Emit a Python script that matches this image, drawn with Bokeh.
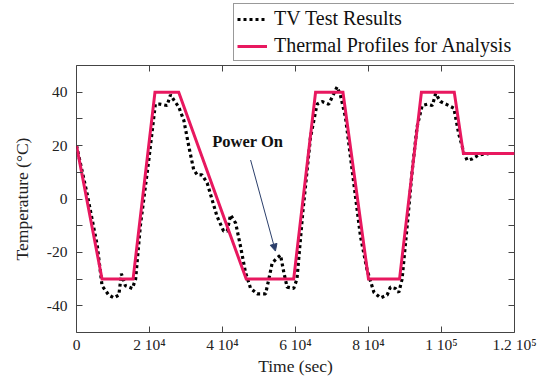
from bokeh.plotting import figure
from bokeh.layouts import column
from bokeh.models import (ColumnDataSource, Legend, LegendItem, LinearAxis, FixedTicker,
                          Range1d, Label, Arrow, NormalHead)
from bokeh.embed import file_html
from bokeh.resources import INLINE

# ---- data ----
profile_time = [0, 7000, 15500, 21500, 28000, 46500, 59500, 65500, 73000, 80000,
                88500, 94500, 103500, 106000, 120000]
profile_temp = [20, -30, -30, 40, 40, -30, -30, 40, 40, -30, -30, 40, 40, 17, 17]

test_time = [0, 2900, 5700, 7000, 8850, 10200, 11600, 12300, 13400, 15300, 16200,
             17500, 19800, 21600, 23000, 24800, 25750, 26700, 28000, 29400, 30800,
             32100, 33100, 34400, 35800, 37200, 38500, 40300, 41300, 42200, 43600,
             44900, 46300, 47700, 49500, 51800, 52700, 53600, 55000, 55900, 56800,
             57700, 59500, 60400, 62000, 64100, 65900, 67300, 69100, 70500, 71400,
             72300, 73700, 75500, 77800, 79600, 81500, 83300, 85100, 86000, 87400,
             88300, 89200, 90600, 92000, 93300, 94700, 96100, 97500, 98400, 99700,
             102000, 103400, 104700, 106100, 107000, 108400, 110200, 112900]
test_temp = [20, 2, -17.5, -32.5, -36, -37, -36, -28, -32.5, -33.5, -30,
             -10, 14.5, 35.5, 35.5, 35, 39, 37, 34.5, 29.5, 19.5,
             11, 9, 9, 6, -0.5, -6.5, -12, -12, -6, -9,
             -17.5, -27.5, -33.5, -35.5, -35.5, -30, -24, -22, -21, -27.5,
             -33, -33.5, -30, -5, 23, 35.5, 36.5, 35.5, 39.5, 42,
             39, 30.5, 11, -14, -26.5, -35, -37, -36, -33, -33.5,
             -35, -30, -10, 11, 27, 35, 35.5, 35, 39.5, 36.5,
             35, 34, 24.5, 17.5, 14.5, 15, 16.5, 17]

x_ticks = [0, 20000, 40000, 60000, 80000, 100000, 120000]
x_tick_labels = ["0", "2 10\u2074", "4 10\u2074", "6 10\u2074", "8 10\u2074", "1 10\u2075", "1.2 10\u2075"]
y_ticks = [-40, -30, -20, -10, 0, 10, 20, 30, 40]
y_tick_labels = ["-40", "", "-20", "", "0", "", "20", "", "40"]

series_names = ["TV Test Results", "Thermal Profiles for Analysis"]
annotation_text = "Power On"
annotation_pos = (37200, 18)
arrow_from = (47700, 14.6)
arrow_to = (54500, -19.5)

FONT = "Liberation Serif"
RED = "#E8185F"
TEST_STYLE = dict(line_color="black", line_width=3.2, line_dash="3 3", line_cap="butt")
PROF_STYLE = dict(line_color=RED, line_width=3, line_join="miter")

# ---- main plot ----
p = figure(width=539, height=317, output_backend="svg", toolbar_location=None,
           x_range=Range1d(0, 120000), y_range=Range1d(-50, 50),
           min_border_left=76, min_border_right=25, min_border_top=4, min_border_bottom=44)
p.background_fill_color = "white"
p.border_fill_color = "white"
p.outline_line_color = "#444444"
p.outline_line_width = 1
p.grid.visible = False

src_test = ColumnDataSource(dict(x=test_time, y=test_temp))
src_prof = ColumnDataSource(dict(x=profile_time, y=profile_temp))

p.line("x", "y", source=src_test, **TEST_STYLE)
p.line("x", "y", source=src_prof, **PROF_STYLE)

xmap = {t: l for t, l in zip(x_ticks, x_tick_labels)}
ymap = {t: l for t, l in zip(y_ticks, y_tick_labels)}

def style(ax, labels=True):
    ax.axis_line_color = None
    ax.major_tick_in = 6
    ax.major_tick_out = 0
    ax.minor_tick_in = 0
    ax.minor_tick_out = 0
    ax.major_tick_line_color = "#444444"
    if labels:
        ax.major_label_text_font = FONT
        ax.major_label_text_font_size = "15.5px"
        ax.major_label_text_color = "#222222"
        ax.axis_label_text_font = FONT
        ax.axis_label_text_font_size = "17.5px"
        ax.axis_label_text_font_style = "normal"
        ax.axis_label_text_color = "#222222"
    else:
        ax.major_label_text_font_size = "0px"
        ax.major_label_standoff = 0

xa = p.xaxis[0]
xa.ticker = FixedTicker(ticks=x_ticks)
xa.major_label_overrides = xmap
xa.axis_label = "Time (sec)"
style(xa)
xa.major_label_standoff = 3
xa.axis_label_standoff = 0

ya = p.yaxis[0]
ya.ticker = FixedTicker(ticks=y_ticks)
ya.major_label_overrides = ymap
ya.axis_label = "Temperature (\u00b0C)"
style(ya)
ya.major_label_standoff = 9
ya.axis_label_standoff = 12

ra = LinearAxis(ticker=FixedTicker(ticks=y_ticks), major_label_overrides={t: "" for t in y_ticks})
style(ra, labels=False)
p.add_layout(ra, "right")
ta = LinearAxis(ticker=FixedTicker(ticks=x_ticks), major_label_overrides={t: "" for t in x_ticks})
style(ta, labels=False)
p.add_layout(ta, "above")

p.add_layout(Label(x=annotation_pos[0], y=annotation_pos[1], text=annotation_text,
                   text_font=FONT, text_font_size="16.5px", text_font_style="bold",
                   text_color="#111111"))
p.add_layout(Arrow(x_start=arrow_from[0], y_start=arrow_from[1], x_end=arrow_to[0], y_end=arrow_to[1],
                   line_color="#2B3F6B", line_width=1,
                   end=NormalHead(size=7, fill_color="#2B3F6B", line_color="#2B3F6B")))

# ---- legend strip above the plot (frame aligned with the main plot's frame) ----
pl = figure(width=539, height=61, output_backend="svg", toolbar_location=None,
            x_range=Range1d(0, 1), y_range=Range1d(0, 1),
            min_border_left=0, min_border_right=0, min_border_top=0, min_border_bottom=0)
pl.axis.visible = False
pl.grid.visible = False
pl.outline_line_color = None
pl.background_fill_color = "white"
pl.border_fill_color = "white"
# legend-only renderers, kept outside the strip's visible range
lr_test = pl.line(x=[-2, -1], y=[-2, -1], **TEST_STYLE)
lr_prof = pl.line(x=[-2, -1], y=[-2, -1], **PROF_STYLE)

legend = Legend(items=[LegendItem(label=series_names[0], renderers=[lr_test]),
                       LegendItem(label=series_names[1], renderers=[lr_prof])],
                location=(157, 0), label_text_font=FONT, label_text_font_size="20px",
                label_text_color="#111111",
                glyph_width=30, glyph_height=18, label_standoff=7, spacing=4,
                padding=3, margin=0, border_line_color="#333333", border_line_width=1,
                label_height=18)
pl.add_layout(legend)

layout = column(pl, p, spacing=0)
open("out.html", "w").write(file_html(layout, INLINE))
